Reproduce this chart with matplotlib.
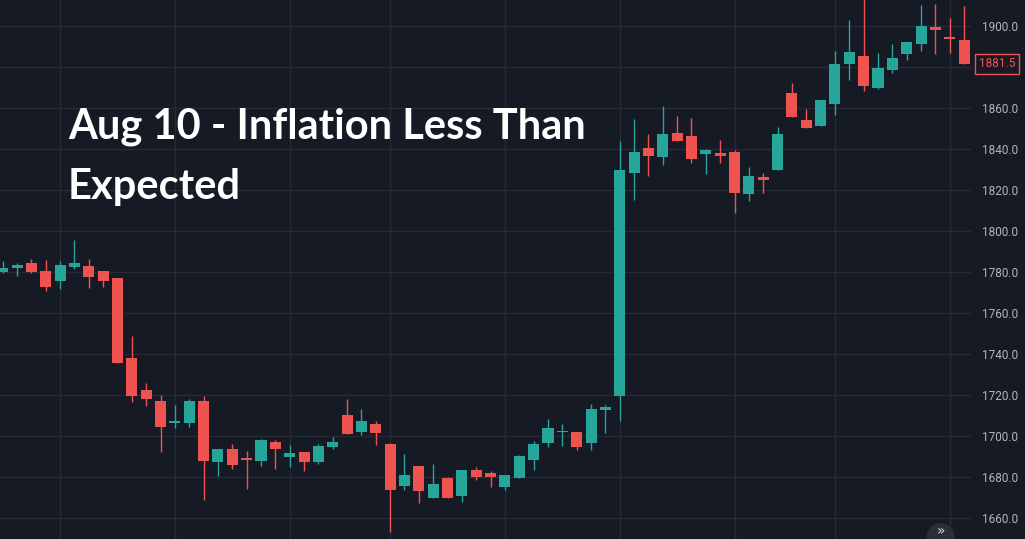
import numpy as np
import matplotlib
matplotlib.use("Agg")
import matplotlib.pyplot as plt
from matplotlib.patches import Circle
from matplotlib.transforms import blended_transform_factory

# hourly gold candles around the Aug 10 CPI release
opens = [1780.2, 1782.1, 1784.6, 1780.7, 1775.8, 1782.6, 1783.1, 1780.7, 1777.2, 1738.2,
         1722.6, 1717.2, 1706.5, 1706.5, 1717.2, 1687.5, 1693.8, 1689.4, 1688.0, 1697.2,
         1689.9, 1692.4, 1687.5, 1694.8, 1710.4, 1702.1, 1706.0, 1696.3, 1675.8, 1685.5,
         1669.9, 1679.7, 1670.9, 1683.6, 1682.1, 1675.3, 1679.7, 1688.5, 1696.7, 1702.1,
         1702.1, 1696.7, 1712.8, 1719.7, 1828.5, 1840.7, 1836.3, 1848.0, 1846.5, 1837.7,
         1838.2, 1838.7, 1818.2, 1826.2, 1829.8, 1867.3, 1854.1, 1851.2, 1862.0, 1881.5,
         1885.4, 1869.8, 1878.5, 1886.3, 1891.2, 1899.5, 1894.6, 1893.2]
highs = [1785.5, 1784.6, 1786.5, 1786.0, 1785.5, 1795.8, 1786.5, 1780.7, 1777.2, 1748.9,
         1726.0, 1720.2, 1715.3, 1718.2, 1719.7, 1693.8, 1696.3, 1692.8, 1698.7, 1698.2,
         1695.8, 1692.4, 1696.3, 1699.7, 1718.2, 1713.3, 1707.5, 1696.8, 1691.4, 1685.5,
         1686.5, 1680.2, 1683.6, 1685.0, 1683.1, 1681.1, 1690.9, 1697.7, 1708.5, 1706.0,
         1702.1, 1715.8, 1715.3, 1844.1, 1854.8, 1847.5, 1861.1, 1856.3, 1855.3, 1840.2,
         1844.6, 1839.7, 1831.4, 1828.3, 1850.7, 1872.2, 1859.5, 1863.9, 1887.8, 1902.9,
         1914.0, 1886.8, 1891.2, 1892.2, 1910.2, 1910.7, 1903.9, 1909.8]
lows = [1779.7, 1778.2, 1779.7, 1770.9, 1771.9, 1781.6, 1772.4, 1772.8, 1735.8, 1716.7,
        1714.8, 1692.4, 1704.1, 1704.6, 1668.9, 1680.7, 1684.1, 1674.3, 1685.5, 1684.1,
        1685.0, 1683.1, 1686.5, 1693.8, 1701.1, 1700.7, 1695.8, 1653.2, 1673.8, 1667.5,
        1669.9, 1669.9, 1668.0, 1678.7, 1675.3, 1673.8, 1679.7, 1683.6, 1694.8, 1695.3,
        1693.3, 1693.3, 1701.6, 1707.5, 1815.3, 1827.0, 1832.4, 1844.1, 1833.3, 1828.0,
        1833.3, 1808.9, 1814.8, 1818.7, 1829.8, 1855.6, 1850.2, 1851.2, 1856.6, 1873.7,
        1868.3, 1869.3, 1877.1, 1883.4, 1887.8, 1886.3, 1886.8, 1881.5]
closes = [1782.1, 1783.6, 1780.2, 1772.8, 1783.6, 1784.6, 1777.7, 1775.8, 1735.8, 1719.7,
          1718.2, 1704.6, 1707.5, 1717.2, 1688.0, 1693.8, 1686.0, 1688.5, 1698.2, 1693.8,
          1691.9, 1687.5, 1695.3, 1697.2, 1701.1, 1707.5, 1701.6, 1673.8, 1681.1, 1673.3,
          1676.7, 1669.9, 1683.6, 1680.2, 1680.2, 1681.1, 1690.4, 1696.3, 1704.1, 1702.6,
          1694.8, 1713.3, 1714.3, 1829.9, 1838.7, 1836.7, 1847.5, 1844.1, 1835.3, 1839.7,
          1836.7, 1818.7, 1827.0, 1824.9, 1847.3, 1855.6, 1850.2, 1863.9, 1881.5, 1887.3,
          1870.7, 1879.5, 1884.4, 1892.2, 1900.0, 1898.0, 1893.7, 1881.5]

last_price = 1881.5
price_ticks = list(range(1660, 1901, 20))
session_marks = [4, 12, 20, 27, 35, 43, 51, 58, 66]
title_lines = ["Aug 10 - Inflation Less Than", "Expected"]

BG = "#161a25"
GRID = "#262a35"
UP = "#26a69a"
DOWN = "#ef5350"
LABEL = "#b2b5be"

o = np.array(opens)
h = np.array(highs)
l = np.array(lows)
c = np.array(closes)
x = np.arange(len(o))
up = c >= o
colors = np.where(up, UP, DOWN)

fig = plt.figure(figsize=(10.25, 5.39), dpi=100, facecolor=BG)
ax = fig.add_axes([0, 0, 971 / 1025, 1])
ax.set_facecolor(BG)

body_lo = np.minimum(o, c)
body_h = np.maximum(np.abs(c - o), 0.6)
ax.vlines(x, l, h, colors=colors, linewidth=1.0, zorder=2)
ax.bar(x, body_h, bottom=body_lo, width=0.77, color=colors, linewidth=0, zorder=3)

ax.set_xlim(-0.19, 67.48)
ax.set_ylim(1649.9, 1912.7)

ax.set_xticks(session_marks)
ax.set_yticks(price_ticks)
ax.grid(True, color=GRID, linewidth=1.0, zorder=0)
ax.tick_params(axis="x", length=0, labelbottom=False)
ax.yaxis.tick_right()
ax.tick_params(axis="y", length=0, pad=8, labelsize=8.5, labelcolor=LABEL)
ax.set_yticklabels(["" if p == 1880 else f"{p:.1f}" for p in price_ticks],
                   fontfamily="Roboto")
for s in ax.spines.values():
    s.set_visible(False)

# last price tag
tr = blended_transform_factory(ax.transAxes, ax.transData)
ax.text(1.0 + 8 / 971, last_price, f"{last_price:.1f}", transform=tr,
        ha="left", va="center", fontsize=8.5, color=DOWN, fontfamily="Roboto",
        clip_on=False,
        bbox=dict(boxstyle="square,pad=0.3", fc=BG, ec=DOWN, lw=1.0))

# headline
fig.text(68 / 1025, 1 - 138 / 539, title_lines[0], fontsize=30, fontweight="bold",
         fontfamily="Lato", color="white", va="baseline", ha="left")
fig.text(68 / 1025, 1 - 199 / 539, title_lines[1], fontsize=30, fontweight="bold",
         fontfamily="Lato", color="white", va="baseline", ha="left")

# scroll button in the corner
fig.add_artist(Circle((9.407, 0.02), 0.14, transform=fig.dpi_scale_trans,
                      fc="#2a2e39", ec="none"))
fig.text(940.5 / 1025, 8 / 539, "»", fontsize=10, color="#d1d4dc",
         ha="center", va="center")

fig.savefig("out.png", dpi=100, facecolor=BG)
